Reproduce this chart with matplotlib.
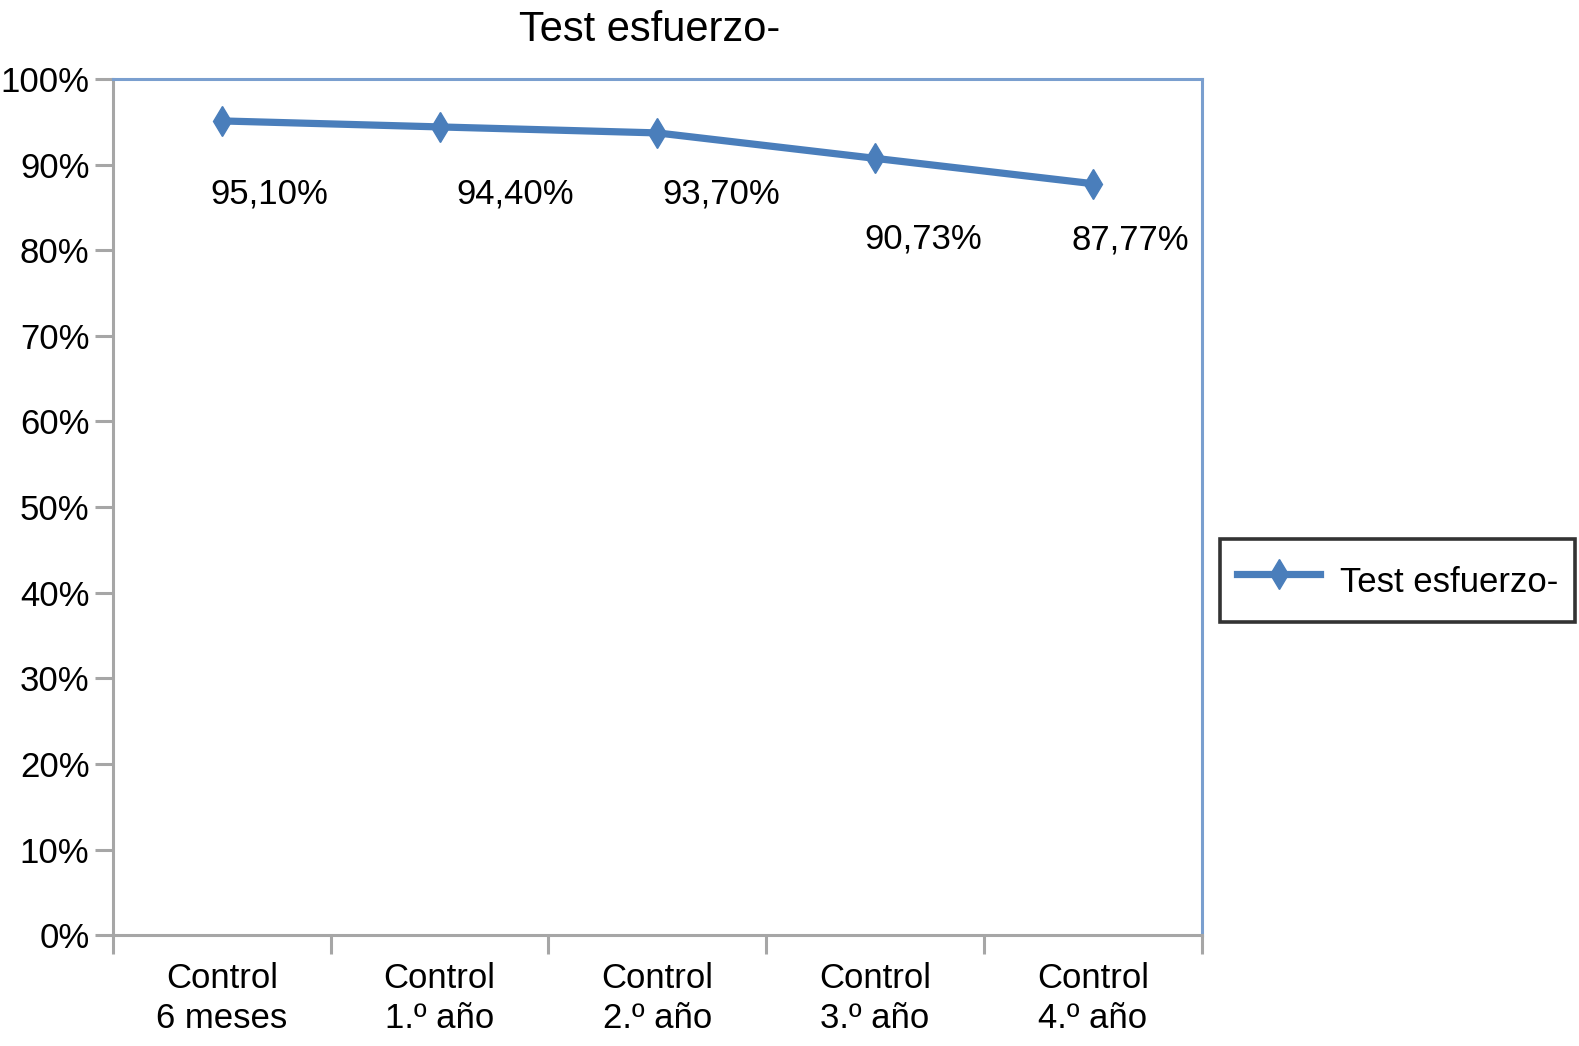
import matplotlib
matplotlib.use("Agg")
import matplotlib.pyplot as plt
from matplotlib.ticker import FixedLocator

plt.rcParams['font.family'] = ['Liberation Sans', 'DejaVu Sans']

categories = ["Control\n6 meses", "Control\n1.º año", "Control\n2.º año", "Control\n3.º año", "Control\n4.º año"]
values = [95.10, 94.40, 93.70, 90.73, 87.77]
labels = ["95,10%", "94,40%", "93,70%", "90,73%", "87,77%"]
yticks = [0, 10, 20, 30, 40, 50, 60, 70, 80, 90, 100]
series_name = "Test esfuerzo-"

# label offsets in pixels (dx, dy) relative to each point
label_offsets = [(47, -73), (76, -67), (64, -61), (48, -81), (38, -56)]

fig = plt.figure(figsize=(15.79, 10.46), dpi=100)
ax = fig.add_axes([0.0716, 0.106, 0.761 - 0.0716, 0.9245 - 0.106])

line_color = "#4a7ebb"
x = list(range(len(categories)))
ax.plot(x, values, color=line_color, lw=5.2, marker="d", ms=15,
        markeredgecolor=line_color, markerfacecolor=line_color, label=series_name)

for xi, v, lab, (dx, dy) in zip(x, values, labels, label_offsets):
    ax.annotate(lab, (xi, v), xytext=(dx * 0.72, dy * 0.72), textcoords="offset points",
                ha="center", va="center", fontsize=25, color="black")

ax.set_xlim(-0.5, len(categories) - 0.5)
ax.set_ylim(0, 100)
ax.set_yticks(yticks)
ax.set_yticklabels([f"{t}%" for t in yticks], fontsize=25)
ax.set_xticks(x)
ax.set_xticklabels(categories, fontsize=25, linespacing=1.3)
ax.xaxis.set_minor_locator(FixedLocator([i - 0.5 for i in range(len(categories) + 1)]))

gray = "#a6a6a6"
blue_spine = "#7a9fcf"
ax.tick_params(axis="x", which="major", length=0, pad=19)
ax.tick_params(axis="x", which="minor", length=14, width=2.2, color=gray, direction="out")
ax.tick_params(axis="y", length=13, width=2.2, color=gray, pad=4)

ax.spines["left"].set_color(gray)
ax.spines["bottom"].set_color(gray)
ax.spines["left"].set_linewidth(2.2)
ax.spines["bottom"].set_linewidth(2.2)
ax.spines["top"].set_color(blue_spine)
ax.spines["right"].set_color(blue_spine)
ax.spines["top"].set_linewidth(2.2)
ax.spines["right"].set_linewidth(2.2)

ax.set_title(series_name, fontsize=30, pad=27, x=0.493)

leg = fig.legend(loc="center", bbox_to_anchor=(0.885, 0.445), fontsize=25,
                 frameon=True, fancybox=False, handlelength=2.4, handleheight=1.75,
                 borderpad=0.5, borderaxespad=0, handletextpad=0.55)
leg.get_frame().set_edgecolor("black")
leg.get_frame().set_linewidth(2.6)

fig.savefig("out.png", dpi=100)
